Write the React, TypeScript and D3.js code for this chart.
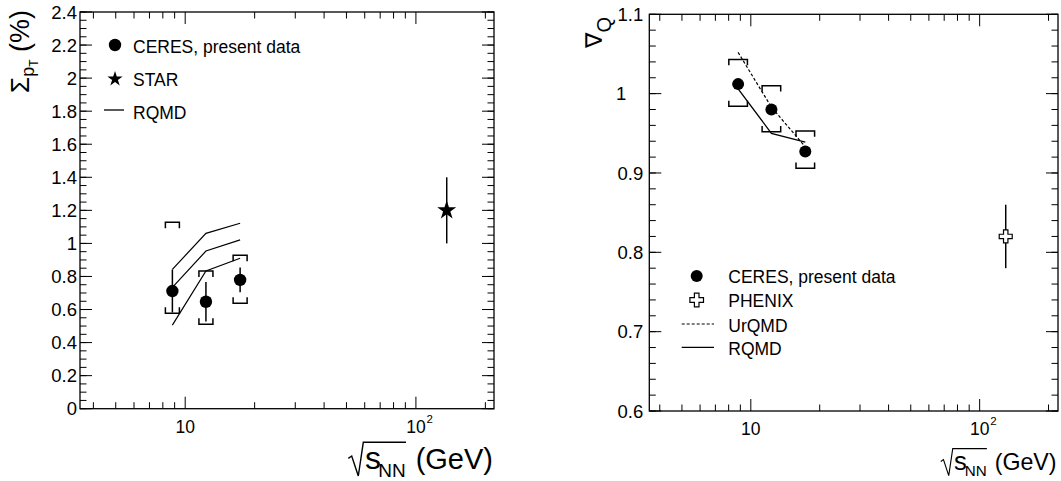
import * as d3 from 'd3';

const FONT = 'Liberation Sans, Arial, Helvetica, sans-serif';

// sqrt(s_NN) of the three CERES energies
const ENERGY = [8.8, 12.3, 17.3];

// left panel: Sigma_pT (%)
const SIGMA = [0.712, 0.647, 0.779];
const SIGMA_STAT = [0.13, 0.12, 0.075];
const SIGMA_SYS_UP = [0.416, 0.186, 0.149];
const SIGMA_SYS_DN = [0.135, 0.136, 0.141];
const RQMD_HI = [0.843, 1.061, 1.122];
const RQMD_MID = [0.734, 0.954, 1.021];
const RQMD_LO = [0.506, 0.833, 0.91];
const STAR_E = [136];
const STAR_V = [1.2];
const STAR_ERR = [0.2];

// right panel: nabla_Q
const NABLA = [1.012, 0.98, 0.927];
const NABLA_SYS_UP = [0.031, 0.03, 0.026];
const NABLA_SYS_DN = [0.028, 0.028, 0.021];
const URQMD = [1.052, 0.983, 0.933];
const RQMD_R = [1.006, 0.95, 0.939];
const PHENIX_E = [130];
const PHENIX_V = [0.82];
const PHENIX_ERR = [0.04];

// ticks
const X_MAJOR = [10, 100];
const X_MINOR = [4, 5, 6, 7, 8, 9, 20, 30, 40, 50, 60, 70, 80, 90, 200];
const Y_MAJOR_L = d3.range(0, 2.41, 0.2);
const Y_MINOR_L = d3.range(0, 2.41, 0.05);
const Y_MAJOR_R = d3.range(0.6, 1.101, 0.1);
const Y_MINOR_R = d3.range(0.6, 1.101, 0.02);

const xL = d3.scaleLog().domain([3.5, 218]).range([80, 494]);
const yL = d3.scaleLinear().domain([0, 2.4]).range([408.7, 12]);
const xR = d3.scaleLog().domain([3.6, 220]).range([649.3, 1058]);
const yR = d3.scaleLinear().domain([0.6, 1.1]).range([411, 14.3]);

const fmt = (v: number) => String(+v.toFixed(2));

type Scale = d3.ScaleContinuousNumeric<number, number>;

function Frame({ x, y, yMajor, yMinor, labelGap, intShift }: {
  x: Scale; y: Scale; yMajor: number[]; yMinor: number[]; labelGap: number; intShift: number;
}) {
  const [x0, x1] = x.range();
  const [y1, y0] = y.range();
  const MJ = 12, MN = 6.5;
  return (
    <g>
      <rect x={x0} y={y0} width={x1 - x0} height={y1 - y0} fill="none" stroke="#000" strokeWidth={1.3} />
      {X_MINOR.map(v => (
        <g key={'xm' + v}>
          <line x1={x(v)} x2={x(v)} y1={y1} y2={y1 - MN} stroke="#000" />
          <line x1={x(v)} x2={x(v)} y1={y0} y2={y0 + MN} stroke="#000" />
        </g>
      ))}
      {X_MAJOR.map(v => (
        <g key={'xM' + v}>
          <line x1={x(v)} x2={x(v)} y1={y1} y2={y1 - MJ} stroke="#000" />
          <line x1={x(v)} x2={x(v)} y1={y0} y2={y0 + MJ} stroke="#000" />
        </g>
      ))}
      <text x={x(10)} y={y1 + 24} textAnchor="middle" fontSize={17.5}>10</text>
      <text x={x(100)} y={y1 + 24} textAnchor="middle" fontSize={17.5}>10</text>
      <text x={x(100) + 10.5} y={y1 + 14} fontSize={11.5}>2</text>
      {yMinor.map(v => (
        <g key={'ym' + v}>
          <line x1={x0} x2={x0 + MN} y1={y(v)} y2={y(v)} stroke="#000" />
          <line x1={x1} x2={x1 - MN} y1={y(v)} y2={y(v)} stroke="#000" />
        </g>
      ))}
      {yMajor.map(v => {
        const s = fmt(v);
        const isInt = !s.includes('.');
        return (
          <g key={'yM' + v}>
            <line x1={x0} x2={x0 + MJ} y1={y(v)} y2={y(v)} stroke="#000" />
            <line x1={x1} x2={x1 - MJ} y1={y(v)} y2={y(v)} stroke="#000" />
            <text x={x0 - labelGap - (isInt ? intShift : 0)} y={y(v)} dy="0.36em" textAnchor="end" fontSize={18.5}>{s}</text>
          </g>
        );
      })}
    </g>
  );
}

function SqrtTitle({ right, base, k }: { right: number; base: number; k: number }) {
  const pts: [number, number][] = [[-144.7, -10.7], [-141.3, -13], [-134.7, 7], [-129.7, -26.7], [-87, -26.7]];
  const d = d3.line()(pts.map(([a, b]) => [right + a * k, base + b * k]));
  return (
    <g>
      <path d={d ?? ''} fill="none" stroke="#000" strokeWidth={1.4 * k} />
      <text x={right - 128 * k} y={base} fontSize={32 * k}>s</text>
      <text x={right - 114.7 * k} y={base + 7.7 * k} fontSize={19 * k}>NN</text>
      <text x={right} y={base} textAnchor="end" fontSize={29 * k}>(GeV)</text>
    </g>
  );
}

function Bracket({ cx, yt, yb, w, t }: { cx: number; yt: number; yb: number; w: number; t: number }) {
  const h = w / 2;
  return (
    <path
      d={`M${cx - h},${yt + t}V${yt}H${cx + h}V${yt + t}M${cx - h},${yb - t}V${yb}H${cx + h}V${yb - t}`}
      fill="none" stroke="#000" strokeWidth={1.5}
    />
  );
}

const crossPath = (cx: number, cy: number, h = 6.5, a = 2.2) =>
  `M${cx - a},${cy - h}H${cx + a}V${cy - a}H${cx + h}V${cy + a}H${cx + a}V${cy + h}H${cx - a}V${cy + a}H${cx - h}V${cy - a}H${cx - a}Z`;

const starPath = (size: number) => d3.symbol(d3.symbolStar, size)() ?? '';

export default function App() {
  const lineL = d3.line<number>().x((_, i) => xL(ENERGY[i])).y(v => yL(v));
  const lineR = d3.line<number>().x((_, i) => xR(ENERGY[i])).y(v => yR(v));

  return (
    <svg width={1061} height={481} viewBox="0 0 1061 481"
      style={{ position: 'absolute', left: 0, top: 0, background: '#fff' }}
      fontFamily={FONT}>
      {/* ---------- left panel ---------- */}
      <Frame x={xL} y={yL} yMajor={Y_MAJOR_L} yMinor={Y_MINOR_L} labelGap={3} intShift={0} />

      {[RQMD_HI, RQMD_MID, RQMD_LO].map((s, i) => (
        <path key={'rq' + i} d={lineL(s) ?? ''} fill="none" stroke="#000" strokeWidth={1.2} />
      ))}
      {ENERGY.map((e, i) => (
        <g key={'c' + i}>
          <line x1={xL(e)} x2={xL(e)} y1={yL(SIGMA[i] + SIGMA_STAT[i])} y2={yL(SIGMA[i] - SIGMA_STAT[i])} stroke="#000" strokeWidth={1.5} />
          <Bracket cx={xL(e)} yt={yL(SIGMA[i] + SIGMA_SYS_UP[i])} yb={yL(SIGMA[i] - SIGMA_SYS_DN[i])} w={14} t={6} />
          <circle cx={xL(e)} cy={yL(SIGMA[i])} r={6.2} fill="#000" />
        </g>
      ))}
      {STAR_E.map((e, i) => (
        <g key={'st' + i}>
          <line x1={xL(e)} x2={xL(e)} y1={yL(STAR_V[i] + STAR_ERR[i])} y2={yL(STAR_V[i] - STAR_ERR[i])} stroke="#000" strokeWidth={1.5} />
          <path d={starPath(112)} transform={`translate(${xL(e)},${yL(STAR_V[i])})`} fill="#000" />
        </g>
      ))}

      {/* legend left */}
      <circle cx={115} cy={45} r={6.2} fill="#000" />
      <text x={133} y={53} fontSize={17.5}>CERES, present data</text>
      <path d={starPath(72)} transform="translate(115,79)" fill="#000" />
      <text x={133} y={85.5} fontSize={17.5}>STAR</text>
      <line x1={104} x2={124} y1={110} y2={110} stroke="#000" strokeWidth={1.3} />
      <text x={133} y={118.5} fontSize={17.5}>RQMD</text>

      {/* titles left */}
      <text transform="translate(29,10) rotate(-90)" textAnchor="end" fontSize={27}>
        <tspan fontSize={26}>Σ</tspan>
        <tspan fontSize={18} dy={5}>p</tspan>
        <tspan fontSize={12} dy={4}>T</tspan>
        <tspan dy={-9}>{'\u00a0(%)'}</tspan>
      </text>
      <SqrtTitle right={493} base={469} k={1} />

      {/* ---------- right panel ---------- */}
      <Frame x={xR} y={yR} yMajor={Y_MAJOR_R} yMinor={Y_MINOR_R} labelGap={6} intShift={17} />

      <path d={lineR(URQMD) ?? ''} fill="none" stroke="#000" strokeWidth={1.2} strokeDasharray="3 2" />
      <path d={lineR(RQMD_R) ?? ''} fill="none" stroke="#000" strokeWidth={1.3} />
      {ENERGY.map((e, i) => (
        <g key={'n' + i}>
          <Bracket cx={xR(e)} yt={yR(NABLA[i] + NABLA_SYS_UP[i])} yb={yR(NABLA[i] - NABLA_SYS_DN[i])} w={18.6} t={5.7} />
          <circle cx={xR(e)} cy={yR(NABLA[i])} r={6} fill="#000" />
        </g>
      ))}
      {PHENIX_E.map((e, i) => (
        <g key={'ph' + i}>
          <line x1={xR(e)} x2={xR(e)} y1={yR(PHENIX_V[i] + PHENIX_ERR[i])} y2={yR(PHENIX_V[i] - PHENIX_ERR[i])} stroke="#000" strokeWidth={1.5} />
          <path d={crossPath(xR(e), yR(PHENIX_V[i]))} fill="#fff" stroke="#000" strokeWidth={1.2} />
        </g>
      ))}

      {/* legend right */}
      <circle cx={696.7} cy={276} r={6} fill="#000" />
      <text x={728.3} y={283.3} fontSize={17.5}>CERES, present data</text>
      <path d={crossPath(696.7, 300, 6.8, 2.3)} fill="#fff" stroke="#000" strokeWidth={1.2} />
      <text x={728.3} y={307} fontSize={17.5}>PHENIX</text>
      <line x1={681.7} x2={714} y1={324} y2={324} stroke="#000" strokeWidth={1.2} strokeDasharray="3 2" />
      <text x={728.3} y={331.5} fontSize={17.5}>UrQMD</text>
      <line x1={681.7} x2={714} y1={347.3} y2={347.3} stroke="#000" strokeWidth={1.3} />
      <text x={728.3} y={355} fontSize={17.5}>RQMD</text>

      {/* titles right */}
      <text transform="translate(602,17) rotate(-90)" textAnchor="end" fontSize={23}>
        <tspan fontFamily="DejaVu Sans">∇</tspan>
        <tspan fontSize={20} dy={9}>Q</tspan>
      </text>
      <SqrtTitle right={1056.5} base={470} k={0.8} />
    </svg>
  );
}
